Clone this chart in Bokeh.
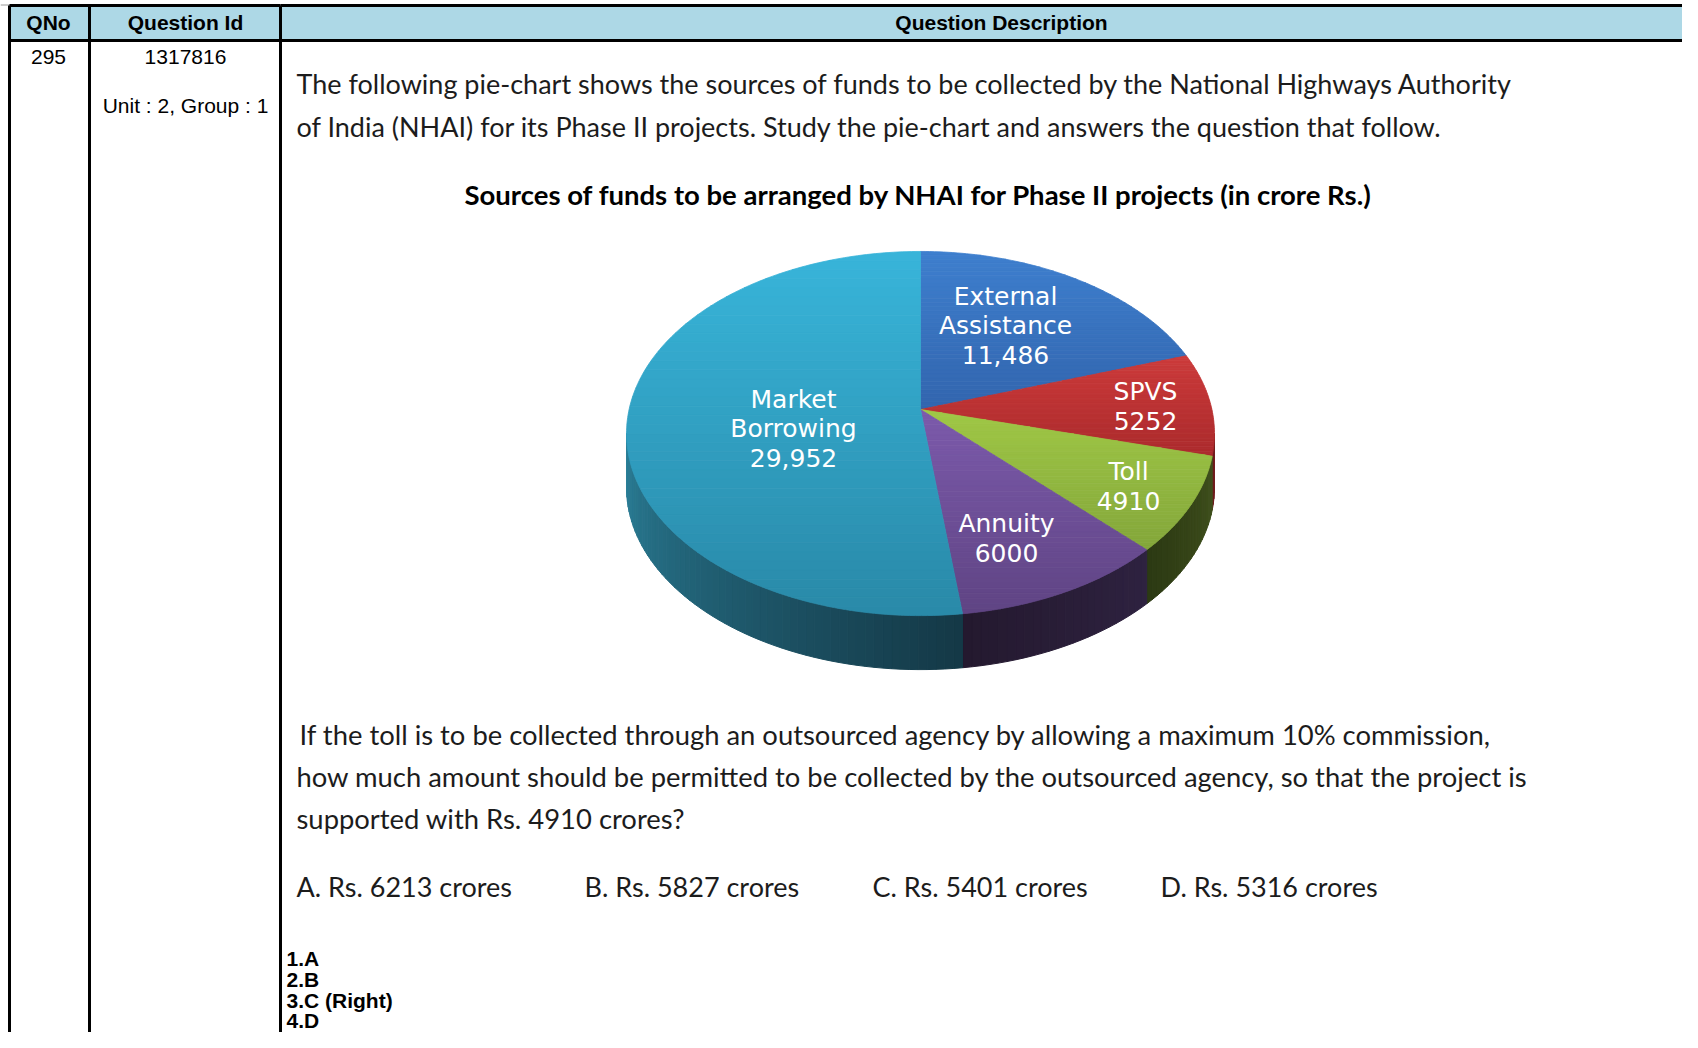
import numpy as np
from bokeh.plotting import figure
from bokeh.models import Range1d
from bokeh.embed import file_html
from bokeh.resources import INLINE
from bokeh.core.properties import value

# ---------------- data ----------------
categories = ["External Assistance", "SPVS", "Toll", "Annuity", "Market Borrowing"]
values = [11486, 5252, 4910, 6000, 29952]
label_lines = [["External", "Assistance", "11,486"], ["SPVS", "5252"], ["Toll", "4910"],
               ["Annuity", "6000"], ["Market", "Borrowing", "29,952"]]
top_colors = [("#3e7fce", "#3265ae"), ("#cc3b3b", "#ab2a2c"), ("#a0c846", "#83a63a"),
              ("#7c5aab", "#5f4484"), ("#38b5da", "#2989a8")]
side_colors = [("#20406e", "#20406e"), ("#7a2020", "#6a1a1a"), ("#3f501c", "#2c3913"),
               ("#2e2240", "#24192f"), ("#143846", "#2b7f98")]

header = ["QNo", "Question Id", "Question Description"]
qno = "295"
qid = "1317816"
unit = "Unit : 2, Group : 1"
intro = ["The following pie-chart shows the sources of funds to be collected by the National Highways Authority",
         "of India (NHAI) for its Phase II projects. Study the pie-chart and answers the question that follow."]
chart_title = "Sources of funds to be arranged by NHAI for Phase II projects (in crore Rs.)"
question = ["If the toll is to be collected through an outsourced agency by allowing a  maximum 10% commission,",
            "how much amount should be permitted to be collected by the outsourced agency, so that the project is",
            "supported with Rs. 4910  crores?"]
options = ["A. Rs. 6213  crores", "B. Rs. 5827  crores", "C. Rs. 5401  crores", "D. Rs. 5316  crores"]
answers = ["1.A", "2.B", "3.C (Right)", "4.D"]

# ---------------- layout ----------------
W, H = 1682, 1032
p = figure(width=W, height=H, x_range=Range1d(0, W), y_range=Range1d(H, 0),
           output_backend="svg", toolbar_location=None, min_border=0,
           x_axis_type=None, y_axis_type=None)
p.grid.visible = False
p.outline_line_color = None
p.background_fill_color = "white"
p.border_fill_color = "white"

# table
p.quad(left=9, right=1700, top=5, bottom=40, fill_color="#add8e6", line_color=None)
p.segment(x0=[0], y0=[4.5], x1=[280], y1=[4.5], line_color="#9a9a9a", line_width=1)
p.segment(x0=[9, 280], y0=[5, 5], x1=[280, 1700], y1=[5, 5], line_color="black", line_width=3)
p.segment(x0=[9], y0=[40], x1=[1700], y1=[40], line_color="black", line_width=3)
p.segment(x0=[9, 89, 280], y0=[5, 5, 5], x1=[9, 89, 280], y1=[1050, 1050, 1050],
          line_color="black", line_width=3)

ARIAL = value("Liberation Sans")
p.text(x=[48, 185, 1001], y=[22, 22, 22], text=header, text_font=ARIAL, text_font_style="bold",
       text_font_size="21px", text_align="center", text_baseline="middle", text_color="black")
p.text(x=[48, 185, 185], y=[56, 56, 105], text=[qno, qid, unit], text_font=ARIAL,
       text_font_size="21px", text_align="center", text_baseline="middle", text_color="black")

BODY = value("Lato")
TXT = "#1c1c1c"
p.text(x=[296, 296], y=[83, 126], text=intro, text_font=BODY, text_font_size="27px",
       text_align="left", text_baseline="middle", text_color=TXT)
p.text(x=[918], y=[194], text=[chart_title], text_font=BODY, text_font_style="bold",
       text_font_size="27.5px", text_align="center", text_baseline="middle", text_color="black")
p.text(x=[299, 296, 296], y=[734, 776, 818], text=question, text_font=BODY, text_font_size="27.4px",
       text_align="left", text_baseline="middle", text_color=TXT)
p.text(x=[296, 584, 872, 1160], y=[886] * 4, text=options, text_font=BODY, text_font_size="27px",
       text_align="left", text_baseline="middle", text_color=TXT)
p.text(x=[286] * 4, y=[958, 979, 1000, 1020], text=answers, text_font=ARIAL, text_font_style="bold",
       text_font_size="21px", text_align="left", text_baseline="middle", text_color="black")

# ---------------- 3D pie (perspective projection of a disc) ----------------
VX, VY = 920.0, 409.0      # projected centre of the disc
KX, KY, E = 291.4, 178.9, 0.132
DEPTH = 54.0

vals = np.array(values, dtype=float)
ends = np.cumsum(vals) / vals.sum() * 360.0
starts = np.concatenate([[0.0], ends[:-1]])


def rim(t, dy=0.0):
    r = np.radians(t)
    u, v = np.sin(r), np.cos(r)
    d = 1.0 + E * v
    return VX + KX * u / d, VY - KY * v / d + dy


def hex2rgb(h):
    return np.array([int(h[i:i + 2], 16) for i in (1, 3, 5)], dtype=float)


def mix(c0, c1, f):
    c = hex2rgb(c0) * (1 - f) + hex2rgb(c1) * f
    return "#%02x%02x%02x" % tuple(int(round(v)) for v in c)


def clip_half(pts, keep, cut):
    out = []
    for i in range(len(pts)):
        cur, prev = pts[i], pts[i - 1]
        ic, ip = keep(cur), keep(prev)
        if ic:
            if not ip:
                out.append(cut(prev, cur))
            out.append(cur)
        elif ip:
            out.append(cut(prev, cur))
    return out


def clip_band(pts, y0, y1):
    def cut_at(yc):
        def f(a, b):
            t = (yc - a[1]) / (b[1] - a[1])
            return (a[0] + t * (b[0] - a[0]), yc)
        return f
    pts = clip_half(pts, lambda q: q[1] >= y0, cut_at(y0))
    if not pts:
        return pts
    return clip_half(pts, lambda q: q[1] <= y1, cut_at(y1))


# visible side wall lies between the silhouette points cos(t) = -E
t_lo = np.degrees(np.arccos(-E))
t_hi = 360.0 - t_lo
sx, sy, sc = [], [], []
for i in range(len(vals)):
    a0, a1 = max(starts[i], t_lo), min(ends[i], t_hi)
    if a1 <= a0:
        continue
    n = max(2, int((a1 - a0) / 1.5))
    ts = np.linspace(a0, a1, n + 1)
    for k in range(n):
        ta, tb = ts[k], ts[k + 1]
        xa, ya = rim(ta)
        xb, yb = rim(tb)
        sx.append([xa, xb, xb, xa])
        sy.append([ya, yb, yb + DEPTH, ya + DEPTH])
        f = ((ta + tb) / 2 - a0) / (a1 - a0)
        sc.append(mix(side_colors[i][0], side_colors[i][1], f))
p.patches(xs=sx, ys=sy, fill_color=sc, line_color=sc, line_width=1)

# top surface with vertical gradient
px, py, pc = [], [], []
for i in range(len(vals)):
    ts = np.linspace(starts[i], ends[i], max(3, int((ends[i] - starts[i]) / 1.0)))
    xs, ys = rim(ts)
    poly = [(VX, VY)] + list(zip(xs, ys))
    ymin, ymax = min(q[1] for q in poly), max(q[1] for q in poly)
    nb = 40
    edges = np.linspace(ymin, ymax, nb + 1)
    for k in range(nb):
        clipped = clip_band(poly, edges[k], edges[k + 1])
        if len(clipped) < 3:
            continue
        px.append([q[0] for q in clipped])
        py.append([q[1] for q in clipped])
        pc.append(mix(top_colors[i][0], top_colors[i][1], (k + 0.5) / nb))
p.patches(xs=px, ys=py, fill_color=pc, line_color=pc, line_width=0.8)

# slice labels
label_pos = [(1005, 325), (1145, 406), (1128, 486), (1006, 538), (793, 428)]
LH = 29.5
lx, ly, lt = [], [], []
for (x0, y0), lines in zip(label_pos, label_lines):
    n = len(lines)
    for j, s in enumerate(lines):
        lx.append(x0)
        ly.append(y0 + (j - (n - 1) / 2) * LH)
        lt.append(s)
p.text(x=lx, y=ly, text=lt, text_font=value("DejaVu Sans"), text_font_size="25px",
       text_align="center", text_baseline="middle", text_color="white")

open("out.html", "w").write(file_html(p, INLINE))
